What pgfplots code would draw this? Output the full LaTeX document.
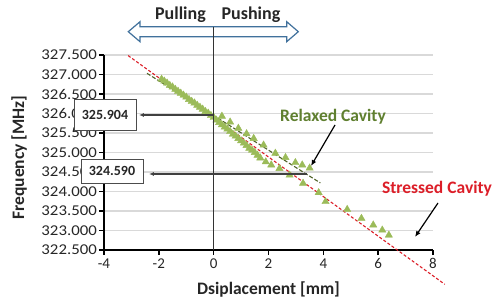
\documentclass[border=0pt]{standalone}
\usepackage{graphicx}
\usepackage{pgfplots}
\pgfplotsset{compat=1.18}
\usepackage{fontspec}
\setmainfont{Carlito}
\usetikzlibrary{arrows.meta}
\definecolor{trigreen}{HTML}{9BBB59}
\definecolor{relgreen}{HTML}{5F7F2F}
\definecolor{reldash}{HTML}{4F6228}
\definecolor{strred}{HTML}{DC1E28}
\definecolor{arrowblue}{HTML}{41719C}
\definecolor{gridgray}{HTML}{D9D9D9}
\definecolor{txt}{HTML}{262626}

\begin{document}
\begin{tikzpicture}
\begin{axis}[
  name=ax, at={(0,0)}, anchor=south west,
  scale only axis, width=329pt, height=195pt,
  xmin=-4, xmax=8, ymin=322.5, ymax=327.5,
  axis x line*=bottom, axis y line*=left,
  axis line style={line width=1.6pt, black},
  xtick={-4,-2,0,2,4,6,8},
  ytick={322.5,323,323.5,324,324.5,325,325.5,326,326.5,327,327.5},
  tick align=outside, major tick length=5pt,
  tick style={line width=1.4pt, black},
  ymajorgrids, grid style={gridgray, line width=1.2pt},
  ticklabel style={font=\fontsize{15}{15}\selectfont, text=txt},
  /pgf/number format/assume math mode=true,
  yticklabel={\scalebox{1.12}[1]{\pgfmathprintnumber[fixed, fixed zerofill, precision=3, 1000 sep={}]{\tick}}},
  yticklabel style={inner sep=2pt},
  xticklabel style={/pgf/number format/.cd, fixed, precision=0},
  xlabel={Dsiplacement [mm]},
  ylabel={Frequency [MHz]},
  label style={font=\fontsize{17.5}{17.5}\bfseries\selectfont, text=txt},
  xlabel style={at={(axis description cs:0.5,-0.205)}, anchor=center},
  ylabel style={at={(axis description cs:-0.258,0.474)}, anchor=center},
  clip=false,
]
\addplot[only marks, mark=triangle*, mark size=4.2pt, color=trigreen,
  mark options={draw=trigreen, fill=trigreen}] coordinates {
(-1.90,326.88) (-1.80,326.83) (-1.70,326.78) (-1.60,326.72) (-1.50,326.68)
(-1.40,326.62) (-1.30,326.57) (-1.20,326.52) (-1.10,326.47) (-1.00,326.42)
(-0.90,326.36) (-0.80,326.31) (-0.70,326.27) (-0.60,326.21) (-0.50,326.16)
(-0.40,326.11) (-0.30,326.05) (-0.20,326.01) (-0.10,325.95) (0.00,325.90)
(0.10,325.83) (0.20,325.77) (0.30,325.71) (0.40,325.65) (0.50,325.60)
(0.60,325.54) (0.70,325.47) (0.80,325.42) (0.90,325.36) (1.00,325.30)
(1.10,325.24) (1.20,325.18) (1.30,325.11) (1.40,325.06) (1.50,325.00)
(1.60,324.93) (1.70,324.86) (1.90,324.76) (2.10,324.68) (2.40,324.59)
(0.30,325.93) (0.60,325.78) (0.90,325.62) (1.20,325.48) (1.46,325.36)
(1.82,325.19) (2.25,324.98) (2.62,324.87) (2.98,324.74) (3.23,324.68)
(3.50,324.60)
(2.77,324.42) (3.26,324.21) (3.83,323.97) (4.08,323.74) (4.87,323.54)
(5.39,323.31) (5.82,323.14) (6.15,323.01) (6.39,322.88)
};
\addplot[reldash, line width=1.1pt, dash pattern=on 4pt off 2pt] coordinates {(-2.43,327.03) (3.89,324.22)};
\addplot[strred, line width=1.1pt, dash pattern=on 3pt off 2pt] coordinates {(-3.12,327.485) (8.43,321.62)};
\end{axis}
\begin{scope}[x=1pt, y=-1pt, shift={(-104pt,250pt)}]
  \draw[arrowblue, line width=1.2pt, fill=white] (128.3,31.7) -- (140,21.7) -- (140,26.7) -- (286.7,26.7) -- (286.7,21.7) -- (298.3,31.7) -- (286.7,41.7) -- (286.7,36.7) -- (140,36.7) -- (140,41.7) -- cycle;
  \draw[line width=1.4pt, black!80] (213.3,27.5) -- (213.3,250);
  \node[font=\fontsize{18}{18}\bfseries\selectfont, text=txt] at (180.5,15) {Pulling};
  \node[font=\fontsize{18}{18}\bfseries\selectfont, text=txt] at (251,15) {Pushing};
  \draw[line width=1.3pt, black!75, -{Latex[length=5pt,width=4pt]}] (213.3,115) -- (139,115);
  \node[draw=black!70, line width=0.8pt, fill=white, minimum width=62pt, minimum height=31pt, inner sep=0pt,
        font=\fontsize{14}{14}\bfseries\selectfont, text=txt] at (105,114.5) {325.904};
  \draw[line width=1.3pt, black!75, -{Latex[length=5pt,width=4pt]}] (307,174) -- (149,174);
  \node[draw=black!70, line width=0.8pt, fill=white, minimum width=62pt, minimum height=24pt, inner sep=0pt,
        font=\fontsize{14}{14}\bfseries\selectfont, text=txt] at (112,171) {324.590};
  \node[font=\fontsize{17.5}{17.5}\bfseries\selectfont, text=relgreen] at (333,117) {Relaxed Cavity};
  \draw[line width=1.2pt, black, -{Latex[length=6pt,width=5pt]}] (335,125) -- (311,166);
  \node[font=\fontsize{17.5}{17.5}\bfseries\selectfont, text=strred] at (437,189) {Stressed Cavity};
  \draw[line width=1.2pt, black, -{Latex[length=6pt,width=5pt]}] (438,203) -- (415,237);
\end{scope}
\pgfresetboundingbox
\path[use as bounding box] (-104pt,-52pt) rectangle (395pt,250pt);
\end{tikzpicture}
\end{document}
